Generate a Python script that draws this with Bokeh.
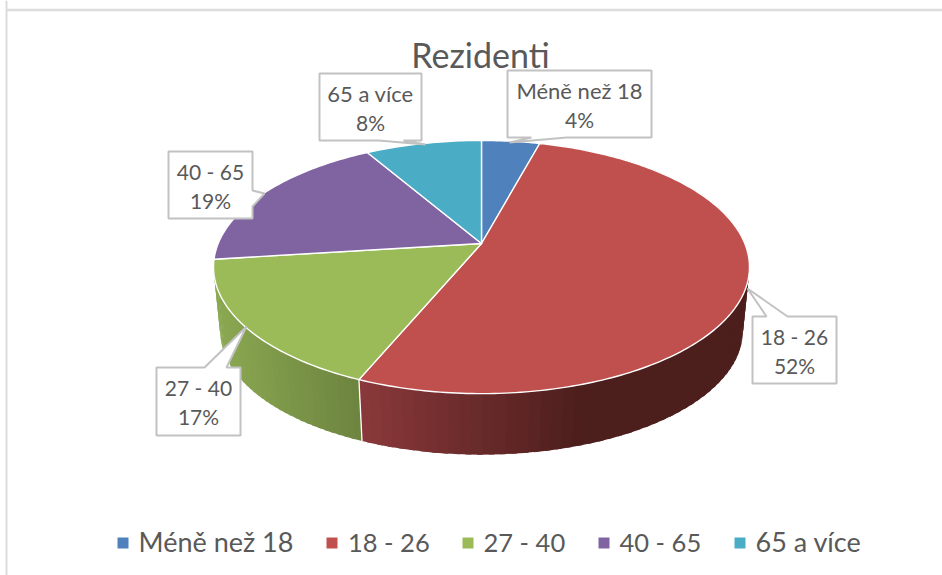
import math
from bokeh.plotting import figure
from bokeh.models import Range1d, ColumnDataSource
from bokeh.core.properties import value
from bokeh.embed import file_html
from bokeh.resources import INLINE

title = "Rezidenti"
categories = ["Méně než 18", "18 - 26", "27 - 40", "40 - 65", "65 a více"]
shares = [4.2, 52.1, 16.7, 18.6, 8.4]
pct_labels = ["4%", "52%", "17%", "19%", "8%"]
colors = ["#4f81bd", "#c0504d", "#9bbb59", "#8064a2", "#4bacc6"]

FONT = value("Lato")
TXT = "#595959"
BOX = "#c2c2c2"
BASE_FIX = 0.36   # raises the text baseline, as a share of the font size

# projection of the tilted disc
CX, CY, A, B, K = 481.0, 243.0, 263.3, 122.2, 0.186
S, CY2 = 0.975, 307.8

def top_pt(t):
    u, v = math.sin(t), math.cos(t)
    d = 1 + K * v
    return CX + A * u / d, CY - B * v / d

def low_pt(t):
    u, v = math.sin(t), math.cos(t)
    d = 1 + K * v
    return CX + S * A * u / d, CY2 - S * B * v / d

def lerp(a, b, f):
    f = max(0.0, min(1.0, f))
    return a + (b - a) * f

def side_color(i, x):
    if i == 1:
        f = (x - 360) / 220
        c = (lerp(137, 76, f), lerp(56, 30, f), lerp(58, 28, f))
    else:
        f = (x - 215) / 145
        c = (lerp(139, 108, f), lerp(168, 131, f), lerp(82, 62, f))
    return "#%02x%02x%02x" % tuple(int(round(v)) for v in c)

def put_text(x, y, s, size, align="center"):
    p.text([x], [y - BASE_FIX * size], text=[s], text_font=FONT,
           text_font_size=f"{size}px", text_color=TXT, text_align=align,
           text_baseline="alphabetic")

p = figure(width=942, height=575, output_backend="svg", toolbar_location=None,
           x_range=Range1d(0, 942), y_range=Range1d(575, 0),
           min_border=0, background_fill_color="white",
           border_fill_color="white", outline_line_color=None)
p.axis.visible = False
p.grid.visible = False

# frame of the surrounding document
p.line([6, 6], [0, 575], line_color="#dcdcdc", line_width=2)
p.line([6, 942], [9.5, 9.5], line_color="#dcdcdc", line_width=2.5)

# slice angles
edges = [0.0]
for s in shares:
    edges.append(edges[-1] + s)
angles = [e / sum(shares) * 2 * math.pi for e in edges]

# side wall
sx, sy, sc = [], [], []
for i in [1, 2]:
    a0, a1 = angles[i], angles[i + 1]
    n = 90 if i == 1 else 40
    for k in range(n):
        t0 = a0 + (a1 - a0) * k / n
        t1 = a0 + (a1 - a0) * min(k + 1.5, n) / n
        x0, y0 = top_pt(t0); x1, y1 = top_pt(t1)
        x2, y2 = low_pt(t1); x3, y3 = low_pt(t0)
        sx.append([x0, x1, x2, x3]); sy.append([y0, y1, y2, y3])
        sc.append(side_color(i, (x0 + x1) / 2))
p.patches("x", "y", source=ColumnDataSource(dict(x=sx, y=sy, c=sc)),
          fill_color="c", line_color=None)

# divider between the two visible walls
wx0, wy0 = top_pt(angles[2]); wx1, wy1 = low_pt(angles[2])
p.line([wx0, wx1], [wy0, wy1], line_color="white", line_width=1.3)

# top face
tx, ty = [], []
for i in range(len(shares)):
    a0, a1 = angles[i], angles[i + 1]
    n = max(8, int((a1 - a0) * 60))
    pts = [top_pt(a0 + (a1 - a0) * k / n) for k in range(n + 1)]
    tx.append([CX] + [q[0] for q in pts])
    ty.append([CY] + [q[1] for q in pts])
p.patches("x", "y", source=ColumnDataSource(dict(x=tx, y=ty, c=colors)),
          fill_color="c", line_color="white", line_width=1.4, line_join="round")

# callouts: (left, right, top, bottom), tail
callouts = {
    0: ((507, 651, 70, 137), [(531, 137), (509, 142), (566, 137)], 22),
    1: ((752, 836, 316, 383), [(766, 316), (747, 288), (787, 316)], 21),
    2: ((156, 240, 367, 435), [(204, 367), (246, 326), (226, 367)], 21),
    3: ((168, 252, 151, 218), [(252, 190), (264, 193), (252, 206)], 21),
    4: ((319, 421, 73, 140), [(378, 140), (425, 144), (403, 140)], 22),
}
for i, (box, tail, size) in callouts.items():
    l, r, t, b = box
    ty0 = tail[0][1]
    if ty0 == b and tail[0][0] != r:      # tail on the bottom edge
        pts = [(l, t), (r, t), (r, b), tail[2], tail[1], tail[0], (l, b)]
    elif ty0 == t:                        # tail on the top edge
        pts = [(l, t), tail[0], tail[1], tail[2], (r, t), (r, b), (l, b)]
    else:                                 # tail on the right edge
        pts = [(l, t), (r, t), tail[0], tail[1], tail[2], (r, b), (l, b)]
    p.patch([q[0] for q in pts], [q[1] for q in pts], fill_color="white",
            line_color=BOX, line_width=2)
    xc = (l + r) / 2
    put_text(xc, t + 28, categories[i], size)
    put_text(xc, t + 57, pct_labels[i], 21)

# title
put_text(480, 66, title, 34)

# legend
legend_sq = [122.5, 331.5, 467.5, 603.5, 739.5]
legend_tx = [138, 347.5, 483, 619, 755]
legend_size = [27, 25.5, 25.5, 25.5, 27]
p.scatter(legend_sq, [542.5] * 5, marker="square", size=11, fill_color=colors, line_color=None)
for x, c, sz in zip(legend_tx, categories, legend_size):
    put_text(x, 551, c, sz, "left")

open("out.html", "w").write(file_html(p, INLINE))
